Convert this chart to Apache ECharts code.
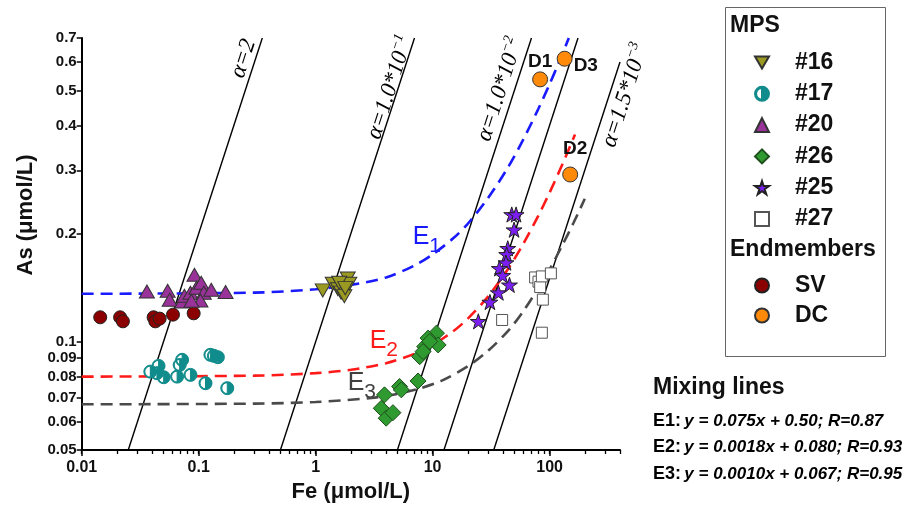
<!DOCTYPE html>
<html>
<head>
<meta charset="utf-8">
<title>As vs Fe</title>
<script src="https://cdn.jsdelivr.net/npm/echarts@6/dist/echarts.min.js"></script>
<style>
html, body { margin: 0; padding: 0; background: #fff; }
#chart { width: 907px; height: 511px; }
</style>
</head>
<body>
<div id="chart"></div>
<script>
// axis ticks
var feMajorTicks = [0.01, 0.1, 1, 10, 100];
var feAllTicks = [0.01, 0.02, 0.03, 0.04, 0.05, 0.06, 0.07, 0.08, 0.09,
    0.1, 0.2, 0.3, 0.4, 0.5, 0.6, 0.7, 0.8, 0.9,
    1, 2, 3, 4, 5, 6, 7, 8, 9,
    10, 20, 30, 40, 50, 60, 70, 80, 90,
    100, 200, 300, 400];
var asTicks = [0.05, 0.06, 0.07, 0.08, 0.09, 0.1, 0.2, 0.3, 0.4, 0.5, 0.6, 0.7];

// samples [Fe, As]
var mps16 = [[1.15, 0.139], [1.40, 0.145], [1.55, 0.140], [1.65, 0.137], [1.76, 0.134],
    [1.88, 0.150], [1.94, 0.145], [1.59, 0.146], [1.79, 0.141]];
var mps17 = [[0.0386, 0.0826], [0.044, 0.0818], [0.0454, 0.0857], [0.0502, 0.0797], [0.0654, 0.080],
    [0.0688, 0.0862], [0.0722, 0.0891], [0.0851, 0.0809], [0.1144, 0.0767], [0.126, 0.092],
    [0.1348, 0.0914], [0.1459, 0.0906], [0.1756, 0.0743]];
var mps20 = [[0.0361, 0.138], [0.0543, 0.1386], [0.0565, 0.1309], [0.0722, 0.1295], [0.0755, 0.1343],
    [0.085, 0.1369], [0.092, 0.1536], [0.0957, 0.1413], [0.1051, 0.146], [0.1106, 0.1369],
    [0.1036, 0.1303], [0.1281, 0.1395], [0.1698, 0.1375], [0.0867, 0.130]];
var mps26 = [[3.88, 0.0712], [3.64, 0.0653], [4.01, 0.0613], [4.58, 0.0635], [5.22, 0.0751],
    [5.40, 0.0735], [7.51, 0.0778], [10.78, 0.1057], [9.15, 0.1024], [8.56, 0.097],
    [7.75, 0.0909], [11.15, 0.098], [9.44, 0.1002], [8.29, 0.0939]];
var mps25 = [[47.5, 0.226], [51.7, 0.226], [49.7, 0.205], [43.9, 0.182], [43.0, 0.175],
    [42.4, 0.166], [37.2, 0.160], [39.7, 0.153], [45.4, 0.144], [36.5, 0.137],
    [30.9, 0.129], [24.6, 0.114]];
var mps27 = [[75.2, 0.151], [80.4, 0.147], [83.1, 0.142], [85.9, 0.152], [102.6, 0.155],
    [87.6, 0.131], [39.3, 0.115], [85.9, 0.106]];
var endSV = [[0.0144, 0.117], [0.0213, 0.117], [0.0225, 0.114], [0.0412, 0.117],
    [0.0426, 0.114], [0.0464, 0.116], [0.0603, 0.119], [0.0906, 0.120]];
var endDCNames = ['D1', 'D2', 'D3'];
var endDC = [[83, 0.537], [150, 0.292], [134.5, 0.613]];

// alpha reference lines
var alpha2 = [[0.025, 0.05], [0.35, 0.7]];
var alpha1e1 = [[0.5, 0.05], [7, 0.7]];
var alpha1e2 = [[5, 0.05], [70, 0.7]];
var alpha4e3 = [[12.5, 0.05], [175, 0.7]];
var alpha15e4 = [[33.3, 0.05], [400, 0.6]];

// mixing lines
var mixE1 = [[0.01, 0.136], [0.3, 0.137], [1, 0.140], [2, 0.144], [4, 0.151], [7, 0.163], [10, 0.175],
    [15, 0.194], [20, 0.213], [30, 0.252], [45, 0.309], [60, 0.367], [80, 0.444], [100, 0.521],
    [120, 0.598], [146, 0.70]];
var mixE2 = [[0.01, 0.080], [0.3, 0.0805], [1, 0.0818], [2, 0.0836], [4, 0.0872], [7, 0.0926],
    [10, 0.098], [15, 0.107], [20, 0.116], [30, 0.134], [45, 0.161], [60, 0.188], [80, 0.224],
    [100, 0.26], [130, 0.314], [165, 0.377]];
var mixE3 = [[0.01, 0.067], [0.3, 0.0673], [1, 0.068], [3, 0.0698], [5, 0.0716], [8, 0.0744],
    [12, 0.078], [20, 0.0855], [30, 0.0946], [45, 0.108], [60, 0.122], [80, 0.141], [100, 0.159],
    [130, 0.187], [160, 0.214], [200, 0.25]];

var SANS = 'Liberation Sans, Arial, sans-serif';
var SERIF = 'Liberation Serif, Times New Roman, serif';

var halfDisc = 'path://M10,0A10,10,0,1,1,10,20A10,10,0,1,1,10,0Z' +
    'M10,1.6A8.4,8.4,0,1,0,10,18.4A8.4,8.4,0,1,0,10,1.6Z' +
    'M10,1.6A8.4,8.4,0,0,1,10,18.4Z';
var star = 'path://M50,0L61.2,34.5L97.6,34.5L68.2,55.9L79.4,90.5L50,69.1L20.6,90.5L31.8,55.9L2.4,34.5L38.8,34.5Z';
var downTri = 'path://M0,0L20,0L10,17Z';

function refLine(data) {
    return {
        type: 'line', data: data, showSymbol: false, silent: true, z: 1,
        lineStyle: {color: '#000', width: 1.4}
    };
}

function mixLine(data, color) {
    return {
        type: 'line', data: data, showSymbol: false, silent: true, z: 2, smooth: 0.3,
        lineStyle: {color: color, width: 2.6, type: [12, 7]}
    };
}

function dots(name, data, symbol, size, color, border, extra) {
    var s = {
        type: 'scatter', name: name, data: data, symbol: symbol, symbolSize: size, z: 3,
        itemStyle: {color: color, borderColor: border, borderWidth: 1, opacity: 1}
    };
    for (var k in extra) s[k] = extra[k];
    return s;
}

var dcLabelPos = {
    D1: {position: 'top', distance: 0},
    D2: {position: 'top', distance: 8, offset: [5, 0]},
    D3: {position: 'right', distance: 1, offset: [0, 7]}
};
var dcData = [];
for (var i = 0; i < endDC.length; i++) {
    var lp = dcLabelPos[endDCNames[i]];
    dcData.push({
        name: endDCNames[i], value: endDC[i],
        label: {show: true, position: lp.position, distance: lp.distance, offset: lp.offset || [0, 0]}
    });
}

var chart = echarts.init(document.getElementById('chart'));

function tickFmt(v) {
    return String(+(+v).toPrecision(2));
}

var legendText = {
    rich: {t: {fontFamily: SANS, fontWeight: 'bold', fontSize: 23, color: '#111', padding: [0, 0, 0, 21], lineHeight: 24}}
};
function legendFmt(n) { return '{t|' + n + '}'; }

function label(x, y, text, size, color, extra) {
    var st = {
        text: text, fontFamily: SANS, fontSize: size, fontWeight: 'bold', fill: color,
        align: 'left', verticalAlign: 'middle'
    };
    for (var k in extra) st[k] = extra[k];
    return {type: 'text', x: x, y: y, silent: true, style: st};
}

var alphaRich = {
    a: {fontFamily: SERIF, fontStyle: 'italic', fontSize: 23, color: '#000', lineHeight: 26, verticalAlign: 'bottom'},
    s: {fontFamily: SERIF, fontStyle: 'italic', fontSize: 14, color: '#000', lineHeight: 14, verticalAlign: 'top'}
};
function alphaLabel(x, y, text) {
    return {
        type: 'text', x: x, y: y, rotation: 72 * Math.PI / 180, silent: true,
        style: {text: text, rich: alphaRich, align: 'center', verticalAlign: 'middle', fill: '#000'}
    };
}

function eLabel(x, y, idx, color) {
    return [
        label(x, y, 'E', 25, color, {fontWeight: 'normal', align: 'center'}),
        label(x + 14, y + 9, idx, 21, color, {fontWeight: 'normal', align: 'center'})
    ];
}

var formulaRich = {
    e: {fontFamily: SANS, fontWeight: 'bold', fontSize: 18},
    f: {fontFamily: SANS, fontWeight: 'bold', fontStyle: 'italic', fontSize: 17, color: '#111'}
};
function formula(y, name, color, text) {
    var r = {e: Object.assign({}, formulaRich.e, {color: color}), f: formulaRich.f};
    return {
        type: 'text', x: 653, y: y, silent: true,
        style: {text: '{e|' + name + ':} {f|' + text + '}', rich: r, align: 'left', verticalAlign: 'middle'}
    };
}

var graphics = [
    {type: 'rect', silent: true, shape: {x: 725.5, y: 7.5, width: 160, height: 349},
        style: {fill: 'none', stroke: '#666', lineWidth: 1}},
    label(730, 26, 'MPS', 23, '#111'),
    label(730, 250, 'Endmembers', 23, '#111'),
    label(653, 388, 'Mixing lines', 23, '#111'),
    formula(421, 'E1', '#1a1aff', 'y = 0.075x + 0.50; R=0.87'),
    formula(447, 'E2', '#ff1a1a', 'y = 0.0018x + 0.080; R=0.93'),
    formula(474, 'E3', '#404040', 'y = 0.0010x + 0.067; R=0.95'),
    alphaLabel(242, 58, '{a|α=2}'),
    alphaLabel(389, 87, '{a|α=1.0*10}{s|−1}'),
    alphaLabel(499, 89, '{a|α=1.0*10}{s|−2}'),
    alphaLabel(624, 95, '{a|α=1.5*10}{s|−3}')
].concat(eLabel(421, 237, '1', '#1a1aff'), eLabel(378, 341, '2', '#ff1a1a'), eLabel(356, 383, '3', '#404040'));

var option = {
    animation: false,
    backgroundColor: '#fff',
    grid: {left: 81.7, right: 287, top: 38, bottom: 61, containLabel: false, outerBoundsMode: 'none'},
    xAxis: [{
        type: 'log', min: 0.01, max: 400, position: 'bottom',
        name: 'Fe (μmol/L)', nameLocation: 'middle', nameGap: 30,
        nameTextStyle: {fontFamily: SANS, fontWeight: 'bold', fontSize: 22, color: '#111'},
        axisLine: {lineStyle: {color: '#000', width: 2}},
        axisTick: {customValues: feAllTicks, length: 4, lineStyle: {color: '#000', width: 1.3}},
        axisLabel: {customValues: feMajorTicks, formatter: tickFmt, margin: 10,
            fontFamily: SANS, fontWeight: 'bold', fontSize: 16, color: '#111'},
        splitLine: {show: false}
    }, {
        type: 'log', min: 0.01, max: 400, position: 'bottom',
        axisLine: {show: false},
        axisTick: {customValues: feMajorTicks, length: 6, lineStyle: {color: '#000', width: 1.5}},
        axisLabel: {show: false},
        splitLine: {show: false}
    }],
    yAxis: {
        type: 'log', min: 0.05, max: 0.7,
        name: 'As (μmol/L)', nameLocation: 'middle', nameGap: 41,
        nameTextStyle: {fontFamily: SANS, fontWeight: 'bold', fontSize: 22, color: '#111', padding: [0, 0, 0, 58]},
        axisLine: {lineStyle: {color: '#000', width: 2}},
        axisTick: {customValues: asTicks, length: 5, lineStyle: {color: '#000', width: 1.5}},
        axisLabel: {customValues: asTicks, formatter: tickFmt, margin: 5,
            fontFamily: SANS, fontWeight: 'bold', fontSize: 15, color: '#111'},
        splitLine: {show: false}
    },
    legend: [{
        data: ['#16', '#17', '#20', '#26', '#25', '#27'],
        orient: 'vertical', left: 749, top: 46, itemWidth: 14, itemHeight: 14, itemGap: 8.3,
        selectedMode: false, formatter: legendFmt, textStyle: legendText
    }, {
        data: ['SV', 'DC'],
        orient: 'vertical', left: 749, top: 269, itemWidth: 14, itemHeight: 14, itemGap: 7,
        selectedMode: false, formatter: legendFmt, textStyle: legendText
    }],
    graphic: graphics,
    series: [
        refLine(alpha2), refLine(alpha1e1), refLine(alpha1e2), refLine(alpha4e3), refLine(alpha15e4),
        mixLine(mixE1, '#1a1aff'), mixLine(mixE2, '#ff1a1a'), mixLine(mixE3, '#4a4a4a'),
        dots('SV', endSV, 'circle', 13, '#8b0000', '#222'),
        dots('#20', mps20, 'triangle', [15, 13], '#993399', '#333'),
        dots('#16', mps16, downTri, [15, 13], '#9a9a22', '#333'),
        dots('#17w', mps17, 'circle', 12, '#fff', '#fff'),
        dots('#17', mps17, halfDisc, 13, '#118c8c', '#118c8c'),
        dots('#26', mps26, 'diamond', 16, '#2f9a2f', '#1f4f1f'),
        dots('#25', mps25, star, 16, '#7a1ff0', '#222', {symbolKeepAspect: true}),
        dots('#27', mps27, 'rect', 11, '#fff', '#555'),
        dots('DC', dcData, 'circle', 15, '#ff8a0a', '#333', {
            label: {fontFamily: SANS, fontWeight: 'bold', fontSize: 19, color: '#111', formatter: '{b}'}
        })
    ]
};

chart.setOption(option);
</script>
</body>
</html>
